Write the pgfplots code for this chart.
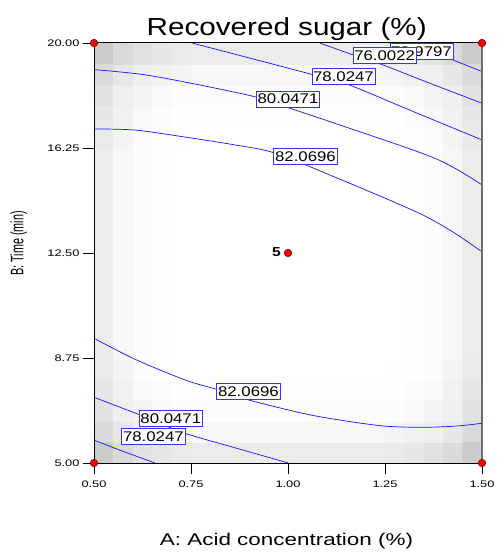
\documentclass[border=0pt]{standalone}
\usepackage{fontspec}
\setmainfont{Liberation Sans}
\newfontfamily\tickfont[FakeStretch=1.35]{Liberation Sans}
\newfontfamily\labfont[FakeStretch=1.2]{Liberation Sans}
\newfontfamily\xlabfont[FakeStretch=1.32]{Liberation Sans}
\newfontfamily\ylabfont[FakeStretch=0.6]{Liberation Sans}
\usepackage{pgfplots}
\pgfplotsset{compat=1.18}
\definecolor{cblue}{RGB}{20,20,255}
\definecolor{lblue}{RGB}{50,50,255}
\definecolor{frgray}{RGB}{110,110,110}
\tikzset{clab/.style={draw=lblue, fill=white, line width=0.8bp, inner xsep=1.2bp, inner ysep=0pt, minimum height=16bp, font=\labfont\fontsize{14bp}{16bp}\selectfont, text=black}}
\begin{document}
\begin{tikzpicture}
\useasboundingbox (-94bp,-89bp) rectangle (403bp,463bp);
\begin{axis}[hide axis, scale only axis, width=388bp, height=420bp,
  xmin=-0.5, xmax=19.5, ymin=-0.5, ymax=19.5,
  colormap={gm}{gray(0cm)=(0); gray(1cm)=(1)}, point meta min=0, point meta max=1]
\addplot[matrix plot*, mesh/cols=20, point meta=explicit] coordinates {
(0,0)[.79] (1,0)[.85] (2,0)[.88] (3,0)[.90] (4,0)[.91] (5,0)[.92] (6,0)[.92] (7,0)[.92] (8,0)[.92] (9,0)[.92] (10,0)[.92] (11,0)[.92] (12,0)[.92] (13,0)[.92] (14,0)[.92] (15,0)[.91] (16,0)[.90] (17,0)[.88] (18,0)[.85] (19,0)[.79]
(0,1)[.85] (1,1)[.90] (2,1)[.93] (3,1)[.94] (4,1)[.95] (5,1)[.96] (6,1)[.96] (7,1)[.96] (8,1)[.96] (9,1)[.96] (10,1)[.96] (11,1)[.96] (12,1)[.96] (13,1)[.96] (14,1)[.96] (15,1)[.95] (16,1)[.94] (17,1)[.93] (18,1)[.90] (19,1)[.85]
(0,2)[.88] (1,2)[.93] (2,2)[.95] (3,2)[.97] (4,2)[.98] (5,2)[.98] (6,2)[.98] (7,2)[.98] (8,2)[.98] (9,2)[.98] (10,2)[.98] (11,2)[.98] (12,2)[.98] (13,2)[.98] (14,2)[.98] (15,2)[.98] (16,2)[.97] (17,2)[.95] (18,2)[.93] (19,2)[.88]
(0,3)[.90] (1,3)[.94] (2,3)[.97] (3,3)[.98] (4,3)[.99] (5,3)[.99] (6,3)[.99] (7,3)[.99] (8,3)[.99] (9,3)[.99] (10,3)[.99] (11,3)[.99] (12,3)[.99] (13,3)[.99] (14,3)[.99] (15,3)[.99] (16,3)[.98] (17,3)[.97] (18,3)[.94] (19,3)[.90]
(0,4)[.91] (1,4)[.95] (2,4)[.98] (3,4)[.99] (4,4)[.99] (5,4)[1] (6,4)[1] (7,4)[1] (8,4)[1] (9,4)[1] (10,4)[1] (11,4)[1] (12,4)[1] (13,4)[1] (14,4)[1] (15,4)[.99] (16,4)[.99] (17,4)[.98] (18,4)[.95] (19,4)[.91]
(0,5)[.92] (1,5)[.96] (2,5)[.98] (3,5)[.99] (4,5)[1] (5,5)[1] (6,5)[1] (7,5)[1] (8,5)[1] (9,5)[1] (10,5)[1] (11,5)[1] (12,5)[1] (13,5)[1] (14,5)[1] (15,5)[1] (16,5)[.99] (17,5)[.98] (18,5)[.96] (19,5)[.92]
(0,6)[.92] (1,6)[.96] (2,6)[.98] (3,6)[.99] (4,6)[1] (5,6)[1] (6,6)[1] (7,6)[1] (8,6)[1] (9,6)[1] (10,6)[1] (11,6)[1] (12,6)[1] (13,6)[1] (14,6)[1] (15,6)[1] (16,6)[.99] (17,6)[.98] (18,6)[.96] (19,6)[.92]
(0,7)[.92] (1,7)[.96] (2,7)[.98] (3,7)[.99] (4,7)[1] (5,7)[1] (6,7)[1] (7,7)[1] (8,7)[1] (9,7)[1] (10,7)[1] (11,7)[1] (12,7)[1] (13,7)[1] (14,7)[1] (15,7)[1] (16,7)[.99] (17,7)[.98] (18,7)[.96] (19,7)[.92]
(0,8)[.92] (1,8)[.96] (2,8)[.98] (3,8)[.99] (4,8)[1] (5,8)[1] (6,8)[1] (7,8)[1] (8,8)[1] (9,8)[1] (10,8)[1] (11,8)[1] (12,8)[1] (13,8)[1] (14,8)[1] (15,8)[1] (16,8)[.99] (17,8)[.98] (18,8)[.96] (19,8)[.92]
(0,9)[.92] (1,9)[.96] (2,9)[.98] (3,9)[.99] (4,9)[1] (5,9)[1] (6,9)[1] (7,9)[1] (8,9)[1] (9,9)[1] (10,9)[1] (11,9)[1] (12,9)[1] (13,9)[1] (14,9)[1] (15,9)[1] (16,9)[.99] (17,9)[.98] (18,9)[.96] (19,9)[.92]
(0,10)[.92] (1,10)[.96] (2,10)[.98] (3,10)[.99] (4,10)[1] (5,10)[1] (6,10)[1] (7,10)[1] (8,10)[1] (9,10)[1] (10,10)[1] (11,10)[1] (12,10)[1] (13,10)[1] (14,10)[1] (15,10)[1] (16,10)[.99] (17,10)[.98] (18,10)[.96] (19,10)[.92]
(0,11)[.92] (1,11)[.96] (2,11)[.98] (3,11)[.99] (4,11)[1] (5,11)[1] (6,11)[1] (7,11)[1] (8,11)[1] (9,11)[1] (10,11)[1] (11,11)[1] (12,11)[1] (13,11)[1] (14,11)[1] (15,11)[1] (16,11)[.99] (17,11)[.98] (18,11)[.96] (19,11)[.92]
(0,12)[.92] (1,12)[.96] (2,12)[.98] (3,12)[.99] (4,12)[1] (5,12)[1] (6,12)[1] (7,12)[1] (8,12)[1] (9,12)[1] (10,12)[1] (11,12)[1] (12,12)[1] (13,12)[1] (14,12)[1] (15,12)[1] (16,12)[.99] (17,12)[.98] (18,12)[.96] (19,12)[.92]
(0,13)[.92] (1,13)[.96] (2,13)[.98] (3,13)[.99] (4,13)[1] (5,13)[1] (6,13)[1] (7,13)[1] (8,13)[1] (9,13)[1] (10,13)[1] (11,13)[1] (12,13)[1] (13,13)[1] (14,13)[1] (15,13)[1] (16,13)[.99] (17,13)[.98] (18,13)[.96] (19,13)[.92]
(0,14)[.92] (1,14)[.96] (2,14)[.98] (3,14)[.99] (4,14)[1] (5,14)[1] (6,14)[1] (7,14)[1] (8,14)[1] (9,14)[1] (10,14)[1] (11,14)[1] (12,14)[1] (13,14)[1] (14,14)[1] (15,14)[1] (16,14)[.99] (17,14)[.98] (18,14)[.96] (19,14)[.92]
(0,15)[.91] (1,15)[.95] (2,15)[.98] (3,15)[.99] (4,15)[.99] (5,15)[1] (6,15)[1] (7,15)[1] (8,15)[1] (9,15)[1] (10,15)[1] (11,15)[1] (12,15)[1] (13,15)[1] (14,15)[1] (15,15)[.99] (16,15)[.99] (17,15)[.98] (18,15)[.95] (19,15)[.91]
(0,16)[.90] (1,16)[.94] (2,16)[.97] (3,16)[.98] (4,16)[.99] (5,16)[.99] (6,16)[.99] (7,16)[.99] (8,16)[.99] (9,16)[.99] (10,16)[.99] (11,16)[.99] (12,16)[.99] (13,16)[.99] (14,16)[.99] (15,16)[.99] (16,16)[.98] (17,16)[.97] (18,16)[.94] (19,16)[.90]
(0,17)[.88] (1,17)[.93] (2,17)[.95] (3,17)[.97] (4,17)[.98] (5,17)[.98] (6,17)[.98] (7,17)[.98] (8,17)[.98] (9,17)[.98] (10,17)[.98] (11,17)[.98] (12,17)[.98] (13,17)[.98] (14,17)[.98] (15,17)[.98] (16,17)[.97] (17,17)[.95] (18,17)[.93] (19,17)[.88]
(0,18)[.85] (1,18)[.90] (2,18)[.93] (3,18)[.94] (4,18)[.95] (5,18)[.96] (6,18)[.96] (7,18)[.96] (8,18)[.96] (9,18)[.96] (10,18)[.96] (11,18)[.96] (12,18)[.96] (13,18)[.96] (14,18)[.96] (15,18)[.95] (16,18)[.94] (17,18)[.93] (18,18)[.90] (19,18)[.85]
(0,19)[.79] (1,19)[.85] (2,19)[.88] (3,19)[.90] (4,19)[.91] (5,19)[.92] (6,19)[.92] (7,19)[.92] (8,19)[.92] (9,19)[.92] (10,19)[.92] (11,19)[.92] (12,19)[.92] (13,19)[.92] (14,19)[.92] (15,19)[.91] (16,19)[.90] (17,19)[.88] (18,19)[.85] (19,19)[.79]
};
\end{axis}
\begin{axis}[scale only axis, width=388bp, height=420bp,
  xmin=0.5, xmax=1.5, ymin=5, ymax=20, clip=false,
  xtick={0.5,0.75,1,1.25,1.5}, ytick={5,8.75,12.5,16.25,20},
  tick pos=left, tick align=outside, major tick length=11bp,
  tick style={black, line width=0.8bp},
  axis line style={black, line width=1bp},
  ticklabel style={font=\tickfont\fontsize{9.5bp}{11bp}\selectfont,
    /pgf/number format/fixed, /pgf/number format/fixed zerofill,
    /pgf/number format/precision=2, /pgf/number format/assume math mode=true},
  xticklabel style={yshift=-3bp}]
% contour lines
\addplot[cblue, line width=0.7bp, smooth, tension=0.5] coordinates {(1.314,20.0) (1.426,19.39) (1.5,18.98)};
\addplot[cblue, line width=0.7bp, smooth, tension=0.5] coordinates {(1.082,20.0) (1.173,19.55) (1.246,19.21) (1.366,18.56) (1.5,17.85)};
\addplot[cblue, line width=0.7bp, smooth, tension=0.5] coordinates {(0.752,20.0) (0.902,19.46) (1.061,18.88) (1.151,18.54) (1.323,17.55) (1.5,16.54)};
\addplot[cblue, line width=0.7bp, smooth, tension=0.5] coordinates {(0.5,19.05) (0.623,18.88) (0.751,18.56) (0.915,18.08) (0.992,17.73) (1.121,17.13) (1.379,15.88) (1.5,14.93)};
\addplot[cblue, line width=0.7bp, smooth, tension=0.5] coordinates {(0.5,16.93) (0.606,16.89) (0.735,16.64) (0.863,16.36) (0.966,16.07) (1.121,15.21) (1.332,13.96) (1.425,13.25) (1.5,12.54)};
\addplot[cblue, line width=0.7bp, smooth, tension=0.5] coordinates {(0.5,9.454) (0.606,8.704) (0.735,7.964) (0.816,7.632) (0.889,7.286) (1.031,6.796) (1.121,6.561) (1.246,6.321) (1.349,6.275) (1.435,6.321) (1.5,6.418)};
\addplot[cblue, line width=0.7bp, smooth, tension=0.5] coordinates {(0.5,7.346) (0.619,6.714) (0.735,6.061) (0.863,5.546) (1.001,5.0)};
\addplot[cblue, line width=0.7bp, smooth, tension=0.5] coordinates {(0.5,5.821) (0.554,5.525) (0.657,5.0)};
% labels
\node[clab] at (axis cs:1.344,19.70) {73.9797};
\node[clab] at (axis cs:1.249,19.55) {76.0022};
\node[clab] at (axis cs:1.143,18.81) {78.0247};
\node[clab] at (axis cs:1.0,18.0) {80.0471};
\node[clab] at (axis cs:1.045,15.94) {82.0696};
\node[clab] at (axis cs:0.898,7.565) {82.0696};
\node[clab] at (axis cs:0.698,6.583) {80.0471};
\node[clab] at (axis cs:0.653,5.957) {78.0247};
\draw[frgray, line width=1.2bp] (rel axis cs:1,0) -- (rel axis cs:1,1);
% design points
\addplot[only marks, mark=*, mark size=3.8bp, mark options={fill=red, draw=black!60!red, line width=0.5bp}] coordinates {(0.5,5) (0.5,20) (1.5,5) (1.5,20) (1,12.5)};
\node[anchor=east, inner sep=0pt, font=\labfont\bfseries\fontsize{13bp}{15bp}\selectfont] at (axis cs:1,12.5) [xshift=-7bp, yshift=1bp] {5};
\end{axis}
\node[anchor=base, font=\labfont\fontsize{24.7bp}{28bp}\selectfont] at (192.7bp,427bp) {Recovered sugar (\%)};
\node[anchor=base, font=\xlabfont\fontsize{17bp}{20bp}\selectfont] at (192.5bp,-82bp) {A: Acid concentration (\%)};
\node[anchor=base, rotate=90, font=\ylabfont\fontsize{18bp}{21bp}\selectfont] at (-70.7bp,219.5bp) {B: Time (min)};
\end{tikzpicture}
\end{document}
